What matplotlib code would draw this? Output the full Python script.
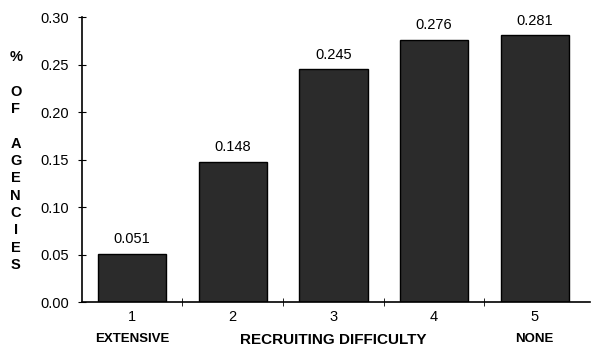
import matplotlib.pyplot as plt
import numpy as np

categories = ["1", "2", "3", "4", "5"]
shares = [0.051, 0.148, 0.245, 0.276, 0.281]
value_labels = ["0.051", "0.148", "0.245", "0.276", "0.281"]
y_ticks = [0.00, 0.05, 0.10, 0.15, 0.20, 0.25, 0.30]

plt.rcParams['font.family'] = ['Liberation Sans', 'DejaVu Sans']

fig = plt.figure(figsize=(6.01, 3.58), dpi=100)
ax = fig.add_axes([0.136, 0.156, 0.846, 0.796])

x = np.arange(1, len(categories) + 1)
ax.bar(x, shares, width=0.68, color="#2b2b2b", edgecolor="black", linewidth=1)
for xi, v, lab in zip(x, shares, value_labels):
    ax.text(xi, v + 0.008, lab, ha="center", va="bottom", fontsize=10.5)

ax.set_xlim(0.5, 5.55)
ax.set_ylim(0, 0.30)
ax.set_yticks(y_ticks)
ax.set_yticklabels([f"{t:.2f}" for t in y_ticks], fontsize=10.5)
ax.set_xticks(x)
ax.set_xticklabels(categories, fontsize=10.5)
ax.set_xticks([1.5, 2.5, 3.5, 4.5], minor=True)
ax.tick_params(axis="x", which="major", length=0, pad=6)
ax.tick_params(axis="x", which="minor", direction="inout", length=6)
ax.tick_params(axis="y", direction="inout", length=6, pad=6)

for side in ["top", "right"]:
    ax.spines[side].set_visible(False)
ax.spines["left"].set_linewidth(1.2)
ax.spines["bottom"].set_linewidth(1.2)

ax.text(1, -0.032, "EXTENSIVE", ha="center", va="top", fontsize=9.5,
        fontweight="bold")
ax.text(5, -0.032, "NONE", ha="center", va="top", fontsize=9.5,
        fontweight="bold")
ax.text(3.0, -0.033, "RECRUITING DIFFICULTY", ha="center", va="top",
        fontsize=11, fontweight="bold")

fig.text(0.026, 0.55, "%\n\nO\nF\n\nA\nG\nE\nN\nC\nI\nE\nS", ha="center",
         va="center", fontsize=10.5, fontweight="bold", linespacing=1.3)

fig.savefig("out.png", dpi=100)
